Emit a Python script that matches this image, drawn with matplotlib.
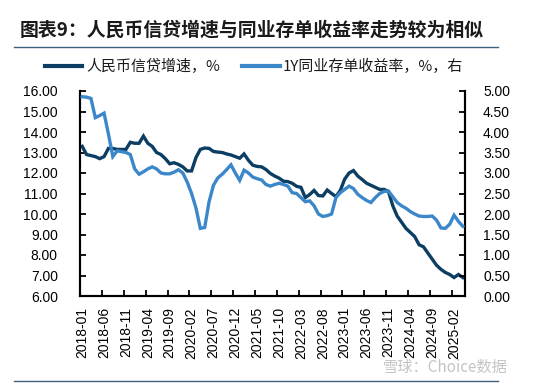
import matplotlib
matplotlib.use("Agg")
import matplotlib.pyplot as plt
from matplotlib.lines import Line2D
import numpy as np

# ---------------- data ----------------
start_year, start_month = 2018, 1
n_months = 88  # 2018-01 .. 2025-04

credit_growth = [  # 人民币信贷增速, % (left axis)
    13.3, 12.9, 12.85, 12.8, 12.7, 12.8, 13.2, 13.2, 13.15, 13.15, 13.15, 13.5,   # 2018
    13.45, 13.45, 13.8, 13.45, 13.3, 13.0, 12.9, 12.7, 12.45, 12.5, 12.42, 12.3,  # 2019
    12.1, 12.1, 12.75, 13.15, 13.22, 13.2, 13.05, 13.02, 13.0, 12.93, 12.88, 12.8,  # 2020
    12.72, 12.93, 12.62, 12.38, 12.32, 12.3, 12.17, 11.98, 11.85, 11.75, 11.6, 11.58,  # 2021
    11.5, 11.35, 11.3, 10.8, 10.95, 11.15, 10.9, 10.88, 11.17, 11.0, 10.85, 11.15,  # 2022
    11.7, 12.0, 12.12, 11.85, 11.68, 11.5, 11.4, 11.3, 11.2, 11.2, 11.1, 10.4,  # 2023
    9.9, 9.6, 9.3, 9.1, 8.9, 8.5, 8.4, 8.1, 7.8, 7.5, 7.3, 7.15,  # 2024
    7.05, 6.9, 7.05, 6.9,  # 2025
]

ncd_yield = [  # 1Y同业存单收益率, % (right axis)
    4.86, 4.85, 4.82, 4.35, 4.40, 4.46, 3.95, 3.40, 3.54, 3.52, 3.50, 3.45,  # 2018
    3.10, 2.97, 3.03, 3.10, 3.15, 3.10, 3.00, 2.98, 2.98, 3.02, 3.08, 3.00,  # 2019
    2.78, 2.50, 2.15, 1.65, 1.67, 2.30, 2.70, 2.88, 2.97, 3.08, 3.20, 3.00,  # 2020
    2.82, 3.07, 3.00, 2.90, 2.86, 2.83, 2.72, 2.68, 2.72, 2.75, 2.72, 2.68,  # 2021
    2.52, 2.50, 2.40, 2.30, 2.32, 2.20, 2.00, 1.94, 1.96, 2.00, 2.40, 2.52,  # 2022
    2.60, 2.68, 2.62, 2.48, 2.40, 2.33, 2.28, 2.40, 2.50, 2.55, 2.56, 2.42,  # 2023
    2.28, 2.20, 2.14, 2.06, 2.00, 1.95, 1.94, 1.94, 1.95, 1.85, 1.66, 1.65,  # 2024
    1.75, 1.97, 1.82, 1.70,  # 2025
]

months = []
y, m = start_year, start_month
for _ in range(n_months):
    months.append(f"{y}-{m:02d}")
    m += 1
    if m > 12:
        m = 1
        y += 1

title_text = "图表9：人民币信贷增速与同业存单收益率走势较为相似"
legend_left = "人民币信贷增速，%"
legend_right = "1Y同业存单收益率，%，右"
source_text = "雪球：Choice数据"

left_ticks = [6, 7, 8, 9, 10, 11, 12, 13, 14, 15, 16]
right_ticks = [0, 0.5, 1.0, 1.5, 2.0, 2.5, 3.0, 3.5, 4.0, 4.5, 5.0]

# ---------------- style ----------------
dark = "#0c3d63"
light = "#3b87c9"
cjk = ["Noto Sans CJK SC", "DejaVu Sans"]
num_font = "Liberation Sans"

W, H = 554, 383
fig = plt.figure(figsize=(W / 100, H / 100), dpi=100)

ax_l, ax_r, ax_t, ax_b = 80, 465, 91, 296
ax = fig.add_axes([ax_l / W, 1 - ax_b / H, (ax_r - ax_l) / W, (ax_b - ax_t) / H])
ax2 = ax.twinx()

x = np.arange(n_months)
ax.plot(x, credit_growth, color=dark, lw=2.4, solid_joinstyle="miter", zorder=3)
ax2.plot(x, ncd_yield, color=light, lw=2.4, solid_joinstyle="miter", zorder=3)

ax.set_xlim(-0.5, n_months - 0.5)
ax.set_ylim(6, 16)
ax2.set_ylim(0, 5)

ax.set_yticks(left_ticks)
ax.set_yticklabels([f"{v:.2f}" for v in left_ticks], fontfamily=num_font, fontsize=10)
ax2.set_yticks(right_ticks)
ax2.set_yticklabels([f"{v:.2f}" for v in right_ticks], fontfamily=num_font, fontsize=10)

label_idx = list(range(0, n_months, 5))
ax.set_xticks([i - 0.5 for i in label_idx])
ax.set_xticklabels([])
ax.set_xticks(label_idx, minor=True)
ax.set_xticklabels([months[i] for i in label_idx], minor=True, rotation=90,
                   fontfamily=num_font, fontsize=10)
ax.tick_params(axis="x", which="minor", length=0, pad=8)
ax.tick_params(axis="x", which="major", direction="in", length=4, width=1.3)
ax.tick_params(axis="y", direction="in", length=4, width=1.3, pad=16)
ax2.tick_params(axis="y", direction="in", length=4, width=1.3, pad=13)

for a in (ax, ax2):
    a.spines["top"].set_visible(False)
    for s in ("left", "right", "bottom"):
        a.spines[s].set_linewidth(1.5)
        a.spines[s].set_color("black")
    a.set_facecolor("none")

# title
fig.text(20 / W, 1 - 30 / H, title_text, family=cjk, fontsize=13.6, fontweight="bold",
         style="italic", color="#1a1a1a", ha="left", va="center")
# top & bottom rule lines
fig.add_artist(Line2D([14 / W, 498 / W], [1 - 47 / H] * 2, color="#3f5f7f", lw=1.0))
fig.add_artist(Line2D([14 / W, 498 / W], [1 - 380.5 / H] * 2, color="#3f5f7f", lw=1.0))

# legend
ly = 1 - 66 / H
fig.add_artist(Line2D([45 / W, 82 / W], [ly, ly], color=dark, lw=3.0))
fig.text(86 / W, ly, legend_left, family=cjk, fontsize=10.8, ha="left", va="center", color="#1a1a1a")
fig.add_artist(Line2D([242 / W, 280 / W], [ly, ly], color=light, lw=3.0))
fig.text(283 / W, ly, legend_right, family=cjk, fontsize=10.8, ha="left", va="center", color="#1a1a1a")

# watermark / source
fig.text(508 / W, 1 - 367 / H, source_text, family=cjk, fontsize=11, ha="right",
         va="center", color="#c4c4c4")

fig.savefig("out.png", dpi=100)
